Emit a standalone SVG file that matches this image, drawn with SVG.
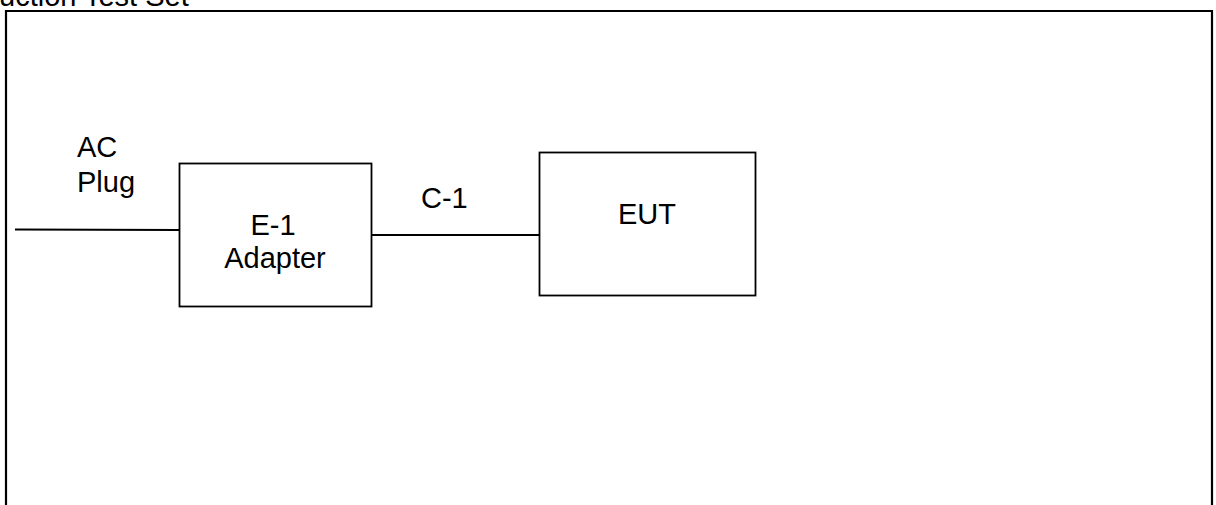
<svg xmlns="http://www.w3.org/2000/svg" width="1216" height="505" viewBox="0 0 1216 505">
<style>
.t{font-family:"Liberation Sans",Arial,sans-serif;font-size:29px;fill:#000}
.box{fill:#fff;stroke:#000;stroke-width:1.8}
.wire{stroke:#000;stroke-width:1.8;fill:none}
</style>
<rect width="1216" height="505" fill="#fff"/>
<text class="t" x="-1" y="6">uction Test Set</text>
<path d="M6,505 V11 H1212 V505" fill="none" stroke="#000" stroke-width="2.2"/>
<g id="connectors">
<line class="wire" x1="15" y1="229.5" x2="180" y2="230"/>
<line class="wire" x1="372" y1="235" x2="539" y2="235"/>
</g>
<g id="ac-plug">
<text class="t" x="77" y="157">AC</text>
<text class="t" x="77" y="192">Plug</text>
</g>
<g id="e1-adapter">
<rect class="box" x="179.5" y="163.5" width="192" height="143"/>
<text class="t" x="273" y="235" text-anchor="middle">E-1</text>
<text class="t" x="275" y="268" text-anchor="middle">Adapter</text>
</g>
<g id="c1">
<text class="t" x="421" y="208">C-1</text>
</g>
<g id="eut">
<rect class="box" x="539.5" y="152.5" width="216" height="143"/>
<text class="t" x="647" y="224" text-anchor="middle">EUT</text>
</g>
</svg>
